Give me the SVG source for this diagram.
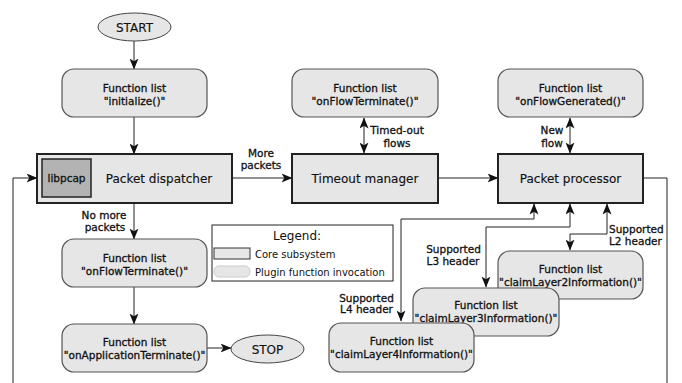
<svg xmlns="http://www.w3.org/2000/svg" width="682" height="383" viewBox="0 0 682 383">
<style>
text{font-family:"DejaVu Sans","Liberation Sans",sans-serif;fill:#111}
.t{font-size:10.5px;text-anchor:middle;stroke:#111;stroke-width:0.3}
.big{font-size:12px;text-anchor:middle;stroke:#111;stroke-width:0.15}
.lbl{font-size:10.5px;stroke:#111;stroke-width:0.3}
.core{fill:#e6e6e6;stroke:#222;stroke-width:2}
.plug{fill:#e6e6e6;stroke:#555;stroke-width:1.2}
.ell{fill:#e6e6e6;stroke:#444;stroke-width:1}
.c{fill:none;stroke:#222;stroke-width:1}
</style>
<defs>
<marker id="ah" viewBox="0 0 11 9" refX="10.5" refY="4.5" markerWidth="11" markerHeight="9" markerUnits="userSpaceOnUse" orient="auto-start-reverse">
<path d="M0,0 L11,4.5 L0,9 L2.8,4.5 z" fill="#111"/>
</marker>
</defs>
<g id="connectors">
<path class="c" d="M134,41 V69" marker-end="url(#ah)"/>
<path class="c" d="M134,117 V154" marker-end="url(#ah)"/>
<path class="c" d="M232,178 H292" marker-end="url(#ah)"/>
<path class="c" d="M438,178 H498" marker-end="url(#ah)"/>
<path class="c" d="M134,203 V239" marker-end="url(#ah)"/>
<path class="c" d="M134,287 V324" marker-end="url(#ah)"/>
<path class="c" d="M207,348 H231" marker-end="url(#ah)"/>
<path class="c" d="M643,178 H667 V383"/>
<path class="c" d="M13,383 V178 H37" marker-end="url(#ah)"/>
<path class="c" d="M364,118 V153" marker-start="url(#ah)" marker-end="url(#ah)"/>
<path class="c" d="M570,118 V153" marker-start="url(#ah)" marker-end="url(#ah)"/>
<path class="c" d="M607,204 V234 H570 V250" marker-start="url(#ah)" marker-end="url(#ah)"/>
<path class="c" d="M570,204 V227 H486 V287" marker-start="url(#ah)" marker-end="url(#ah)"/>
<path class="c" d="M534,204 V219 H401 V321" marker-start="url(#ah)" marker-end="url(#ah)"/>
<text class="t" x="261" y="157">More</text>
<text class="t" x="261" y="169">packets</text>
<text class="t" x="397" y="134">Timed-out</text>
<text class="t" x="397" y="147">flows</text>
<text class="t" x="552" y="134">New</text>
<text class="t" x="552" y="147">flow</text>
<text class="t" x="104" y="219">No more</text>
<text class="t" x="105" y="231">packets</text>
<text class="lbl" x="609" y="233">Supported</text>
<text class="lbl" x="609" y="245">L2 header</text>
<text class="t" x="453.5" y="253">Supported</text>
<text class="t" x="453" y="265">L3 header</text>
<text class="t" x="366.5" y="302">Supported</text>
<text class="t" x="366.5" y="313">L4 header</text>
</g>
<g id="start">
<ellipse class="ell" cx="134.5" cy="27" rx="36.5" ry="14"/>
<text class="big" x="134.5" y="31.5">START</text>
</g>
<g id="initialize">
<rect class="plug" x="62" y="69" width="145" height="48" rx="12"/>
<text class="t" x="134.5" y="92">Function list</text>
<text class="t" x="134.5" y="105">"initialize()"</text>
</g>
<g id="dispatcher">
<rect class="core" x="37" y="154" width="195" height="49"/>
<rect x="42" y="159" width="49" height="38" fill="#b3b3b3" stroke="#222" stroke-width="1.5"/>
<text class="t" x="66.5" y="182">libpcap</text>
<text class="big" x="159" y="182.5">Packet dispatcher</text>
</g>
<g id="timeout">
<rect class="core" x="292" y="154" width="146" height="49"/>
<text class="big" x="365" y="182.5">Timeout manager</text>
</g>
<g id="processor">
<rect class="core" x="498" y="154" width="145" height="49"/>
<text class="big" x="570.5" y="182.5">Packet processor</text>
</g>
<g id="onFlowTerminateTop">
<rect class="plug" x="292" y="69" width="146" height="48" rx="12"/>
<text class="t" x="365" y="92">Function list</text>
<text class="t" x="365" y="105">"onFlowTerminate()"</text>
</g>
<g id="onFlowGenerated">
<rect class="plug" x="498" y="69" width="145" height="48" rx="12"/>
<text class="t" x="570.5" y="92">Function list</text>
<text class="t" x="570.5" y="105">"onFlowGenerated()"</text>
</g>
<g id="onFlowTerminate">
<rect class="plug" x="62" y="239" width="145" height="48" rx="12"/>
<text class="t" x="134.5" y="262">Function list</text>
<text class="t" x="134.5" y="275">"onFlowTerminate()"</text>
</g>
<g id="onApplicationTerminate">
<rect class="plug" x="62" y="324" width="145" height="48" rx="12"/>
<text class="t" x="134.5" y="346">Function list</text>
<text class="t" x="134.5" y="359">"onApplicationTerminate()"</text>
</g>
<g id="stop">
<ellipse class="ell" cx="267.5" cy="349" rx="36.5" ry="14"/>
<text class="big" x="267.5" y="353.5">STOP</text>
</g>
<g id="legend">
<rect x="212" y="225" width="181" height="56" fill="#fff" stroke="#222" stroke-width="1"/>
<text x="297" y="240" style="font-size:12px;text-anchor:middle">Legend:</text>
<rect x="214" y="248" width="36" height="11" fill="#e6e6e6" stroke="#333" stroke-width="1"/>
<text x="255" y="258" style="font-size:10px">Core subsystem</text>
<rect x="214" y="266" width="36" height="11" rx="5" fill="#e6e6e6" stroke="#ccc" stroke-width="1"/>
<text x="255" y="276" style="font-size:10px">Plugin function invocation</text>
</g>
<g id="claimLayer2">
<rect class="plug" x="498" y="251" width="145" height="48" rx="12"/>
<text class="t" x="570.5" y="273">Function list</text>
<text class="t" x="570.5" y="286">"claimLayer2Information()"</text>
</g>
<g id="claimLayer3">
<rect class="plug" x="413" y="288" width="146" height="48" rx="12"/>
<text class="t" x="486" y="309">Function list</text>
<text class="t" x="486" y="322">"claimLayer3Information()"</text>
</g>
<g id="claimLayer4">
<rect class="plug" x="329" y="323" width="145" height="49" rx="12"/>
<text class="t" x="401.5" y="345">Function list</text>
<text class="t" x="401.5" y="358">"claimLayer4Information()"</text>
</g>
</svg>
